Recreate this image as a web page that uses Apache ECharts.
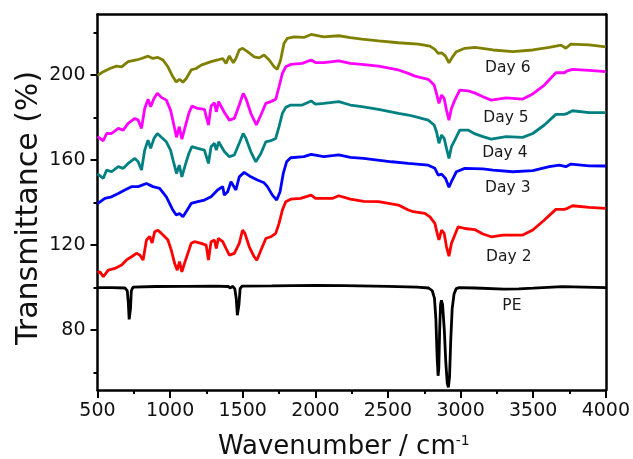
<!DOCTYPE html>
<html>
<head>
<meta charset="utf-8">
<script src="https://cdn.jsdelivr.net/npm/echarts@6/dist/echarts.min.js"></script>
<style>html,body{margin:0;padding:0;background:#fff;}#c{width:633px;height:459px;}</style>
</head>
<body>
<div id="c"></div>
<script>
// ---- data (wavenumber in cm-1, transmittance in %) ----
const peWn = [500,600,690,705,712,718,722,727,733,745,900,1100,1300,1400,1415,1430,1445,1455,1463,1468,1474,1482,1495,1700,2000,2200,2500,2700,2780,2805,2820,2830,2838,2845,2850,2856,2862,2868,2876,2888,2898,2908,2916,2924,2932,2942,2955,2970,2990,3100,3300,3400,3500,3700,4000];
const peVal = [100,100,99.8,98.5,93,85,84.7,90,98.5,100.2,100.5,100.6,100.7,100.5,99.8,100.6,99.5,95,87,86.6,92,99.5,100.7,100.8,101,100.9,100.6,100.2,99.8,98.5,95,85,68,58.5,62,80,92,94,92,80,65,55,53,58,75,90,97,99.5,100,99.8,99.3,99.4,99.7,100.4,100];

const day2Wn = [500,517,540,574,620,666,700,734,768,791,814,837,860,876,894,916,940,962,985,1008,1031,1049,1065,1081,1099,1122,1145,1168,1214,1248,1264,1282,1305,1318,1332,1362,1385,1408,1442,1476,1499,1515,1545,1579,1597,1625,1659,1693,1727,1750,1773,1796,1830,1899,1971,2001,2120,2161,2241,2332,2435,2572,2640,2674,2754,2789,2823,2839,2851,2869,2887,2903,2920,2937,2956,2983,3029,3097,3154,3211,3291,3428,3497,3577,3656,3714,3725,3736,3771,3885,4000];
const day2Val = [107,107.4,105.1,108.2,109,110.6,113,114.5,116.1,115.3,113,122.4,124,121,126.3,127,125.5,124,122.4,117.6,111.4,108.2,112.2,107.4,111.4,116.1,120.8,121.6,120.8,120,113,121.6,122.4,118.4,123.1,121.6,118.4,115.3,116.1,120.8,127.1,125.5,119.2,114.5,112.9,117.6,123.1,123.9,125.5,130.2,136.5,140.4,141.6,142,143.5,142,142,143.2,141.6,140.6,140.4,138.8,136.5,135.7,134.9,133.3,130.2,125.5,122.4,127.1,125.5,119.2,114.8,120.8,124,128.6,127.8,127.3,125.2,123.9,124.7,124.7,127.1,131.8,136.8,136.8,136.2,137.3,138.5,137.7,137.3];

const day3Wn = [500,551,597,643,688,734,780,837,882,928,974,1019,1042,1065,1088,1118,1145,1190,1236,1282,1327,1362,1373,1396,1419,1453,1476,1510,1556,1601,1647,1670,1704,1734,1757,1779,1802,1830,1921,1971,2058,2161,2241,2332,2526,2640,2777,2823,2846,2869,2896,2920,2942,2971,3029,3154,3223,3360,3497,3611,3680,3725,3759,3885,4000];
const day3Val = [139.5,142,142.7,144.3,145.9,147.5,147.5,149,147.5,146.7,142.7,136.5,134.1,134.9,133.3,136.5,139.6,140.4,141.2,142.7,145.9,147.5,143.5,145.1,149.8,145.9,152.1,154.2,152.1,150.6,149.3,147.5,143.5,141.2,145.1,153.7,159.2,161.1,161.6,162.7,161.6,162.4,161.3,160.8,159.2,158.4,157.6,156.1,152.9,153.4,151.4,147.2,150.6,154.5,156.1,155.9,155.3,154.5,155,156.9,157.6,156.9,158.1,157.3,157.2];

const day4Wn = [500,510,540,563,597,643,677,711,757,780,803,825,848,866,889,912,940,974,1003,1026,1044,1063,1081,1104,1129,1150,1190,1236,1264,1282,1305,1318,1334,1373,1408,1442,1476,1503,1522,1556,1590,1625,1659,1693,1727,1750,1773,1796,1830,1910,1971,2001,2058,2161,2241,2320,2435,2572,2640,2686,2777,2818,2834,2851,2869,2887,2903,2920,2937,2960,2994,3051,3100,3154,3211,3314,3428,3497,3577,3656,3714,3725,3736,3771,3885,4000];
const day4Val = [153.5,152.9,151.4,155.3,154.5,156.9,156.1,158.4,160.8,159.2,155.3,164.7,169.4,165.5,170.2,172.5,170.7,168.6,164.7,158.4,153.7,157.6,152.1,157.6,163.1,166.3,165.5,164.7,158.4,166.3,167.9,164.7,168.6,164,161.6,162.4,167.9,172.5,170.2,163.9,159.2,163.1,168.6,169.1,170.2,175.7,182,184.8,185.9,185.9,187.8,186.3,186.7,187.5,185.9,185.2,183.9,182,181.2,180.4,178.8,176.5,173.3,167.9,171.8,170.2,165.5,160.8,166.3,169.4,174.1,174.1,172.3,171,169.9,171,170.7,172.5,176.5,181.5,181.5,181,182,183.2,182.3,182.3];

const day5Wn = [500,510,540,563,597,643,677,711,757,780,803,825,848,866,889,912,940,974,1003,1026,1044,1063,1081,1104,1129,1150,1190,1236,1264,1282,1305,1318,1334,1373,1408,1442,1476,1503,1522,1556,1594,1625,1659,1693,1727,1750,1773,1796,1830,1910,1971,2001,2058,2161,2241,2320,2435,2572,2640,2686,2777,2818,2834,2851,2869,2887,2903,2920,2937,2960,2994,3051,3100,3154,3211,3314,3428,3497,3577,3656,3714,3725,3736,3771,3885,4000];
const day5Val = [171,170.7,169.1,172.5,172.5,174.9,174.1,177.3,179.6,178.8,174.9,184.3,188.6,185.1,189,191.4,189.5,188.2,183.5,176.5,170.7,175.7,169.8,175.7,182,185.4,184.3,183.9,176.5,185.4,187,182.7,187.5,182.5,178.8,179.6,185.9,191.4,189,182,176.5,181.2,186.7,187.5,188.6,194.5,200.8,203.9,205,205.5,207.1,205.9,205.9,206.7,205.5,205,204.2,202.4,200.8,199.5,198,195.3,191.4,186.7,190.6,189,183.5,178.8,184.3,188.2,192.9,192.6,191.5,189.8,188.2,189.3,188.7,191.1,195.3,201.1,201.1,200.5,202,202.7,202.2,201.6];

const day6Wn = [500,540,586,631,666,711,768,803,848,882,916,951,985,1019,1042,1065,1088,1111,1145,1179,1214,1248,1282,1327,1362,1385,1408,1435,1453,1476,1499,1533,1579,1613,1647,1682,1716,1738,1761,1784,1807,1853,1921,1971,2058,2161,2241,2320,2435,2572,2709,2789,2823,2846,2869,2896,2920,2942,2971,3029,3100,3223,3360,3497,3611,3691,3725,3759,3885,4000];
const day6Val = [199.8,201.6,203.1,204.2,203.9,206.3,207.1,207.8,208.9,207.8,208.3,207.1,203.9,199.2,196.8,198,196.6,198.4,202.4,203.1,204.7,205.5,206.3,207.1,207.8,205.5,209,205.8,207.8,211.8,212.6,211,208.6,208.1,209.4,207.1,203.9,202.7,207.1,214.9,217.3,218,217.7,219.1,218,218.5,217.6,216.9,216.1,215.2,214.6,213.6,212.1,210.2,210.5,208.9,205.8,208.3,211,212.6,213,211.8,211,211.8,213,214.1,212.6,214.6,214.2,213.3];

const seriesNames = ['PE','Day 2','Day 3','Day 4','Day 5','Day 6'];
const labelWn = [3353,3332,3325,3305,3312,3325];
const labelVal = [91.3,114.4,146.8,163.3,179.8,203.3];
const xTicks = [500,1000,1500,2000,2500,3000,3500,4000];
const yMajor = [80,120,160,200];
const yMinor = [60,100,140,180,220];

// ---- chart ----
const FONT = 'DejaVu Sans';
const colors = ['#000000','#ff0000','#0000ff','#008080','#ff00ff','#808000'];
const wns = [peWn,day2Wn,day3Wn,day4Wn,day5Wn,day6Wn];
const vals = [peVal,day2Val,day3Val,day4Val,day5Val,day6Val];
const YMIN = 51.8, YMAX = 228.5;
const plain = v => String(v);

const series = seriesNames.map((name,i)=>({
  name, type:'line', showSymbol:false, symbol:'none', animation:false,
  data: wns[i].map((w,j)=>[w, vals[i][j]]),
  lineStyle:{color:colors[i], width:2.8},
  itemStyle:{color:colors[i]},
  markPoint:{
    symbol:'circle', symbolSize:0, animation:false,
    label:{show:true, position:'inside', formatter:name, color:'#1a1a1a', fontFamily:FONT, fontSize:15.5},
    data:[{coord:[labelWn[i], labelVal[i]]}]
  }
}));

const chart = echarts.init(document.getElementById('c'), null, {renderer:'canvas'});
chart.setOption({
  animation:false,
  backgroundColor:'#fff',
  grid:{left:97.5, right:24.5, top:14.5, bottom:69},
  xAxis:[
    {type:'value', min:500, max:4000, interval:500, position:'bottom',
     axisLine:{show:true, onZero:false, lineStyle:{color:'#000', width:2.5}},
     axisTick:{show:true, length:8, lineStyle:{color:'#000', width:2}},
     minorTick:{show:true, splitNumber:2, length:4, lineStyle:{color:'#000', width:2}},
     axisLabel:{customValues:xTicks, formatter:plain, fontFamily:FONT, fontSize:19, color:'#111', margin:12},
     splitLine:{show:false}},
    {type:'value', min:500, max:4000, position:'top',
     axisLine:{show:true, onZero:false, lineStyle:{color:'#000', width:2.5}},
     axisTick:{show:false}, axisLabel:{show:false}, splitLine:{show:false}}
  ],
  yAxis:[
    {type:'value', min:YMIN, max:YMAX, position:'left',
     axisLine:{show:true, onZero:false, lineStyle:{color:'#000', width:2.5}},
     axisTick:{show:true, length:7, customValues:yMajor, lineStyle:{color:'#000', width:2}},
     axisLabel:{customValues:yMajor, formatter:plain, fontFamily:FONT, fontSize:19, color:'#111', margin:12},
     splitLine:{show:false}},
    {type:'value', min:YMIN, max:YMAX, position:'left',
     axisLine:{show:false},
     axisTick:{show:true, length:4, customValues:yMinor, lineStyle:{color:'#000', width:2}},
     axisLabel:{show:false}, splitLine:{show:false}},
    {type:'value', min:YMIN, max:YMAX, position:'right',
     axisLine:{show:true, onZero:false, lineStyle:{color:'#000', width:2.5}},
     axisTick:{show:false}, axisLabel:{show:false}, splitLine:{show:false}}
  ],
  series,
  graphic:[
    {type:'text', x:218, y:447, style:{
      text:'{a|Wavenumber / cm}{b|-1}', fill:'#111', verticalAlign:'middle', align:'left',
      rich:{a:{fontFamily:FONT, fontSize:26, fill:'#111', color:'#111'}, b:{fontFamily:FONT, fontSize:14, verticalAlign:'top', color:'#111', fill:'#111'}}
    }},
    {type:'text', x:29, y:208, rotation:Math.PI/2, style:{
      text:'Transmittance (%)', fontFamily:FONT, fontSize:30, fill:'#111', align:'center', verticalAlign:'middle'
    }}
  ]
});
</script>
</body>
</html>
